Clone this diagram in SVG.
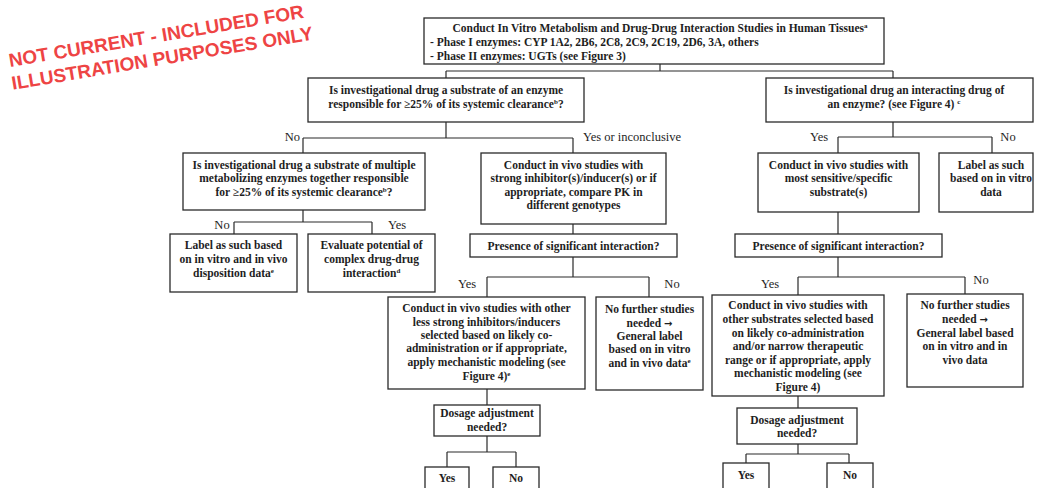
<svg xmlns="http://www.w3.org/2000/svg" width="1037" height="488" viewBox="0 0 1037 488">
<style>
.box{fill:#fff;stroke:#2a2a2a;stroke-width:1.3}
.ln{fill:none;stroke:#2a2a2a;stroke-width:1.2}
.t{font-family:"Liberation Serif","Times New Roman",serif;font-weight:bold;font-size:11.5px;fill:#1e1e1e;text-anchor:middle}
.ts{font-family:"Liberation Serif","Times New Roman",serif;font-weight:bold;font-size:11.5px;fill:#1e1e1e;text-anchor:start}
.l{font-family:"Liberation Serif","Times New Roman",serif;font-size:12.5px;fill:#1e1e1e}
.s{font-size:7px}
.ar{font-family:"DejaVu Sans",sans-serif;font-weight:bold;font-size:10px}
.wm{font-family:"Liberation Sans",Arial,sans-serif;font-weight:bold;font-size:19px;fill:#ee4444}
</style>
<rect width="1037" height="488" fill="#fff"/>
<g id="watermark" transform="translate(10,67) rotate(-9.5)">
<text class="wm" x="0" y="0">NOT CURRENT - INCLUDED FOR</text>
<text class="wm" x="-1" y="23">ILLUSTRATION PURPOSES ONLY</text>
</g>
<g id="connectors">
<path class="ln" d="M660,64V71M446,71H893M446,71V78M893,71V78"/>
<path class="ln" d="M446,122V138M303,138H573M303,138V153M573,138V153"/>
<path class="ln" d="M303,210V222M234,222H372M234,222V234M372,222V234"/>
<path class="ln" d="M573,224V234M573,257V277M487,277H649M487,277V297M649,277V297"/>
<path class="ln" d="M487,389V405M487,436V452M447,452H516M447,452V467M516,452V467"/>
<path class="ln" d="M893,122V137M838,137H992M838,137V153M992,137V153"/>
<path class="ln" d="M838,212V234M838,257V277M798,277H965M798,277V295M965,277V294"/>
<path class="ln" d="M798,396V408M798,444V454M746,454H849M746,454V463M849,454V463"/>
<text class="l" x="300" y="141" text-anchor="end">No</text>
<text class="l" x="583" y="141">Yes or inconclusive</text>
<text class="l" x="222" y="229" text-anchor="middle">No</text>
<text class="l" x="397" y="229" text-anchor="middle">Yes</text>
<text class="l" x="467" y="288" text-anchor="middle">Yes</text>
<text class="l" x="672" y="288" text-anchor="middle">No</text>
<text class="l" x="819" y="141" text-anchor="middle">Yes</text>
<text class="l" x="1008" y="141" text-anchor="middle">No</text>
<text class="l" x="770" y="288" text-anchor="middle">Yes</text>
<text class="l" x="981" y="284" text-anchor="middle">No</text>
</g>
<g id="n-top">
<rect class="box" x="424" y="18" width="460" height="46"/>
<text class="t" x="660" y="32">Conduct In Vitro Metabolism and Drug-Drug Interaction Studies in Human Tissues<tspan class="s" dy="-4">a</tspan></text>
<text class="ts" x="430" y="46">- Phase I enzymes: CYP 1A2, 2B6, 2C8, 2C9, 2C19, 2D6, 3A, others</text>
<text class="ts" x="430" y="60">- Phase II enzymes: UGTs (see Figure 3)</text>
</g>
<g id="n-substrate">
<rect class="box" x="308" y="78" width="276" height="44"/>
<text class="t" x="446" y="94">Is investigational drug a substrate of an enzyme</text>
<text class="t" x="446" y="108">responsible for ≥25% of its systemic clearance<tspan class="s" dy="-4">b</tspan><tspan dy="4">?</tspan></text>
</g>
<g id="n-interacting">
<rect class="box" x="766" y="78" width="267" height="44"/>
<text class="t" x="894" y="94">Is investigational drug an interacting drug of</text>
<text class="t" x="894" y="108">an enzyme? (see Figure 4) <tspan class="s" dy="-4">c</tspan></text>
</g>
<g id="n-multiple">
<rect class="box" x="183" y="153" width="242" height="57"/>
<text class="t" x="304" y="169">Is investigational drug a substrate of multiple</text>
<text class="t" x="304" y="182">metabolizing enzymes together responsible</text>
<text class="t" x="304" y="196">for ≥25% of its systemic clearance<tspan class="s" dy="-4">b</tspan><tspan dy="4">?</tspan></text>
</g>
<g id="n-label-disposition">
<rect class="box" x="170" y="234" width="127" height="58"/>
<text class="t" x="233.5" y="249">Label as such based</text>
<text class="t" x="233.5" y="263">on in vitro and in vivo</text>
<text class="t" x="233.5" y="277">disposition data<tspan class="s" dy="-4">e</tspan></text>
</g>
<g id="n-complex">
<rect class="box" x="308" y="234" width="127" height="58"/>
<text class="t" x="371.5" y="249">Evaluate potential of</text>
<text class="t" x="371.5" y="263">complex drug-drug</text>
<text class="t" x="371.5" y="277">interaction<tspan class="s" dy="-4">d</tspan></text>
</g>
<g id="n-strong">
<rect class="box" x="481" y="153" width="185" height="71"/>
<text class="t" x="573.5" y="169">Conduct in vivo studies with</text>
<text class="t" x="573.5" y="182">strong inhibitor(s)/inducer(s) or if</text>
<text class="t" x="573.5" y="196">appropriate, compare PK in</text>
<text class="t" x="573.5" y="209">different genotypes</text>
</g>
<g id="n-presence-1">
<rect class="box" x="470" y="234" width="207" height="23"/>
<text class="t" x="573.5" y="250">Presence of significant interaction?</text>
</g>
<g id="n-less-strong">
<rect class="box" x="388" y="297" width="197" height="92"/>
<text class="t" x="486.5" y="312">Conduct in vivo studies with other</text>
<text class="t" x="486.5" y="326">less strong inhibitors/inducers</text>
<text class="t" x="486.5" y="339">selected based on likely co-</text>
<text class="t" x="486.5" y="352">administration or  if appropriate,</text>
<text class="t" x="486.5" y="366">apply mechanistic modeling (see</text>
<text class="t" x="486.5" y="380">Figure 4)<tspan class="s" dy="-4">e</tspan></text>
</g>
<g id="n-nofurther-1">
<rect class="box" x="596" y="297" width="107" height="93"/>
<text class="t" x="649.5" y="313">No further studies</text>
<text class="t" x="649.5" y="327">needed <tspan class="ar">→</tspan></text>
<text class="t" x="649.5" y="340">General label</text>
<text class="t" x="649.5" y="353">based on in vitro</text>
<text class="t" x="649.5" y="367">and in vivo data<tspan class="s" dy="-4">e</tspan></text>
</g>
<g id="n-dosage-1">
<rect class="box" x="434" y="405" width="106" height="31"/>
<text class="t" x="487" y="417">Dosage adjustment</text>
<text class="t" x="487" y="431">needed?</text>
</g>
<g id="n-yes-1">
<rect class="box" x="425" y="467" width="44" height="30"/>
<text class="t" x="447" y="482">Yes</text>
</g>
<g id="n-no-1">
<rect class="box" x="493" y="467" width="46" height="30"/>
<text class="t" x="516" y="482">No</text>
</g>
<g id="n-sensitive">
<rect class="box" x="758" y="153" width="161" height="59"/>
<text class="t" x="838.5" y="169">Conduct in vivo studies with</text>
<text class="t" x="838.5" y="182">most sensitive/specific</text>
<text class="t" x="838.5" y="196">substrate(s)</text>
</g>
<g id="n-label-invitro">
<rect class="box" x="939" y="153" width="94" height="59"/>
<text class="t" x="991" y="169">Label as such</text>
<text class="t" x="991" y="182">based on in vitro</text>
<text class="t" x="991" y="196">data</text>
</g>
<g id="n-presence-2">
<rect class="box" x="735" y="234" width="207" height="23"/>
<text class="t" x="838.5" y="250">Presence of significant interaction?</text>
</g>
<g id="n-other-substrates">
<rect class="box" x="712" y="295" width="172" height="101"/>
<text class="t" x="798" y="309">Conduct in vivo studies with</text>
<text class="t" x="798" y="323">other substrates selected based</text>
<text class="t" x="798" y="337">on likely co-administration</text>
<text class="t" x="798" y="350">and/or narrow therapeutic</text>
<text class="t" x="798" y="364">range or if appropriate, apply</text>
<text class="t" x="798" y="377">mechanistic modeling (see</text>
<text class="t" x="798" y="391">Figure 4)</text>
</g>
<g id="n-nofurther-2">
<rect class="box" x="907" y="294" width="116" height="93"/>
<text class="t" x="965" y="309">No further studies</text>
<text class="t" x="965" y="323">needed <tspan class="ar">→</tspan></text>
<text class="t" x="965" y="337">General label based</text>
<text class="t" x="965" y="350">on in vitro and in</text>
<text class="t" x="965" y="364">vivo data</text>
</g>
<g id="n-dosage-2">
<rect class="box" x="737" y="408" width="120" height="36"/>
<text class="t" x="797" y="424">Dosage adjustment</text>
<text class="t" x="797" y="437">needed?</text>
</g>
<g id="n-yes-2">
<rect class="box" x="723" y="463" width="46" height="30"/>
<text class="t" x="746" y="479">Yes</text>
</g>
<g id="n-no-2">
<rect class="box" x="827" y="463" width="46" height="30"/>
<text class="t" x="850" y="479">No</text>
</g>
</svg>
